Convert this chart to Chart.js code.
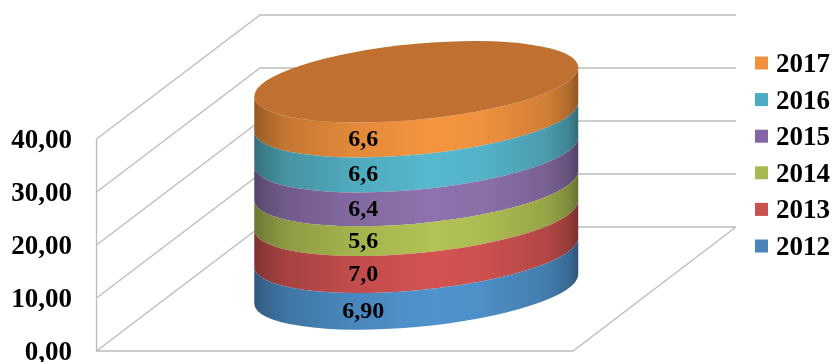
<!DOCTYPE html>
<html>
<head>
<meta charset="utf-8">
<title>Cylinder chart</title>
<script src="https://cdn.jsdelivr.net/npm/chart.js@4/dist/chart.umd.min.js"></script>
<style>
  html, body { margin: 0; padding: 0; background: #fff; }
  canvas { display: block; }
</style>
</head>
<body>
<canvas id="chart" width="833" height="362"></canvas>
<script>
const years = ['2012', '2013', '2014', '2015', '2016', '2017'];
const values = [6.9, 7.0, 5.6, 6.4, 6.6, 6.6];
const valueLabels = ['6,90', '7,0', '5,6', '6,4', '6,6', '6,6'];
const seriesColors = ['#4f93cd', '#d25352', '#b2c254', '#8e72ae', '#57b8cd', '#f6953f'];
const legendColors = ['#4a84bc', '#c9504e', '#a8b850', '#8466a8', '#4bacc4', '#f0913e'];
const topColor = '#c07031';

const serif = '"Liberation Serif", "Times New Roman", serif';

// 3D box: how far the back wall sits from the front axis
const depthX = 163.5;
const depthY = 124;
const floorRight = 573;
// the cylinder stands in the middle of the floor
const centerShift = 62;
const ellipseB = 38;
const ellipseTilt = -14.5; // y offset of the right rim from the centre

function shade(hex, k) {
  const n = parseInt(hex.slice(1), 16);
  const r = Math.round(((n >> 16) & 255) * k);
  const g = Math.round(((n >> 8) & 255) * k);
  const b = Math.round((n & 255) * k);
  return `rgb(${r},${g},${b})`;
}

function sideGradient(ctx, left, right, color) {
  const grad = ctx.createLinearGradient(left, 0, right, 0);
  const stops = [[0, 0.6], [0.03, 0.68], [0.1, 0.8], [0.3, 0.92], [0.55, 1], [0.7, 0.97], [0.9, 0.85], [0.97, 0.72], [1, 0.58]];
  stops.forEach(s => grad.addColorStop(s[0], shade(color, s[1])));
  return grad;
}

// adds half or whole of a tilted ellipse to the current path
function rim(ctx, cx, cy, a, from, to, ccw) {
  ctx.save();
  ctx.translate(cx, cy);
  ctx.transform(1, ellipseTilt / a, 0, 1, 0, 0);
  ctx.ellipse(0, 0, a, ellipseB, 0, from, to, ccw);
  ctx.restore();
}

const wallsPlugin = {
  id: 'walls',
  beforeDatasetsDraw(chart) {
    const ctx = chart.ctx;
    const y = chart.scales.y;
    const left = chart.chartArea.left;
    const right = chart.chartArea.right;
    ctx.save();
    ctx.strokeStyle = '#bdbdbd';
    ctx.lineWidth = 1.3;
    ctx.beginPath();
    y.ticks.forEach(t => {
      const py = y.getPixelForValue(t.value);
      ctx.moveTo(left, py);
      ctx.lineTo(left + depthX, py - depthY);
      ctx.lineTo(right, py - depthY);
    });
    // front axis and the floor edges
    const bottom = y.getPixelForValue(0);
    ctx.moveTo(left, y.getPixelForValue(40));
    ctx.lineTo(left, bottom);
    ctx.lineTo(floorRight, bottom);
    ctx.lineTo(right, bottom - depthY);
    ctx.stroke();

    // tick labels sit on the digit centre, not the em box
    ctx.font = 'bold 27px ' + serif;
    ctx.fillStyle = '#000';
    ctx.textAlign = 'right';
    ctx.textBaseline = 'alphabetic';
    y.ticks.forEach(t => {
      ctx.fillText(t.label, 72, y.getPixelForValue(t.value) + 9);
    });
    ctx.restore();
  }
};

const cylinderPlugin = {
  id: 'cylinder',
  // every stacked bar is painted as one slice of the cylinder
  beforeDatasetDraw(chart, args) {
    const ctx = chart.ctx;
    const bar = args.meta.data[0];
    const a = bar.width / 2;
    const top = bar.y - centerShift;
    const base = bar.base - centerShift;
    ctx.save();
    ctx.beginPath();
    rim(ctx, bar.x, base, a, 0, Math.PI, false);
    rim(ctx, bar.x, top, a, Math.PI, 0, true);
    ctx.closePath();
    ctx.fillStyle = sideGradient(ctx, bar.x - a, bar.x + a, seriesColors[args.index]);
    ctx.fill();
    if (args.index === years.length - 1) {
      ctx.beginPath();
      rim(ctx, bar.x, top, a, 0, Math.PI * 2, false);
      ctx.fillStyle = topColor;
      ctx.fill();
    }
    ctx.restore();
    return false;
  },
  afterDatasetsDraw(chart) {
    const ctx = chart.ctx;
    ctx.save();
    ctx.font = 'bold 24px ' + serif;
    ctx.fillStyle = '#000';
    ctx.textAlign = 'center';
    ctx.textBaseline = 'middle';
    years.forEach((year, i) => {
      const bar = chart.getDatasetMeta(i).data[0];
      const mid = (bar.y + bar.base) / 2 - centerShift;
      ctx.fillText(valueLabels[i], bar.x - 53, mid + 41);
    });
    ctx.restore();
  }
};

const legendPlugin = {
  id: 'sideLegend',
  afterDraw(chart) {
    const ctx = chart.ctx;
    ctx.save();
    ctx.font = 'bold 27px ' + serif;
    ctx.textAlign = 'left';
    ctx.textBaseline = 'alphabetic';
    for (let i = years.length - 1, row = 0; i >= 0; i -= 1, row += 1) {
      const cy = 63 + row * 36.6;
      ctx.fillStyle = legendColors[i];
      ctx.fillRect(755, cy - 6.5, 13, 13);
      ctx.fillStyle = '#000';
      ctx.fillText(years[i], 776, cy + 9);
    }
    ctx.restore();
  }
};

new Chart(document.getElementById('chart'), {
  type: 'bar',
  data: {
    labels: [''],
    datasets: years.map((year, i) => ({
      label: year,
      data: [values[i]],
      backgroundColor: seriesColors[i]
    }))
  },
  options: {
    responsive: false,
    animation: false,
    layout: { padding: { top: 139, bottom: 11, right: 97, left: 0 } },
    plugins: {
      legend: { display: false },
      tooltip: { enabled: false }
    },
    barPercentage: 0.5066,
    categoryPercentage: 1,
    scales: {
      x: { stacked: true, display: false },
      y: {
        stacked: true,
        min: 0,
        max: 40,
        afterFit(scale) {
          scale.width = 96.5;
          scale.paddingTop = 0;
          scale.paddingBottom = 0;
        },
        border: { display: false },
        grid: { display: false, drawTicks: false },
        ticks: {
          display: false,
          stepSize: 10,
          callback: v => v.toFixed(2).replace('.', ',')
        }
      }
    }
  },
  plugins: [wallsPlugin, cylinderPlugin, legendPlugin]
});
</script>
</body>
</html>
